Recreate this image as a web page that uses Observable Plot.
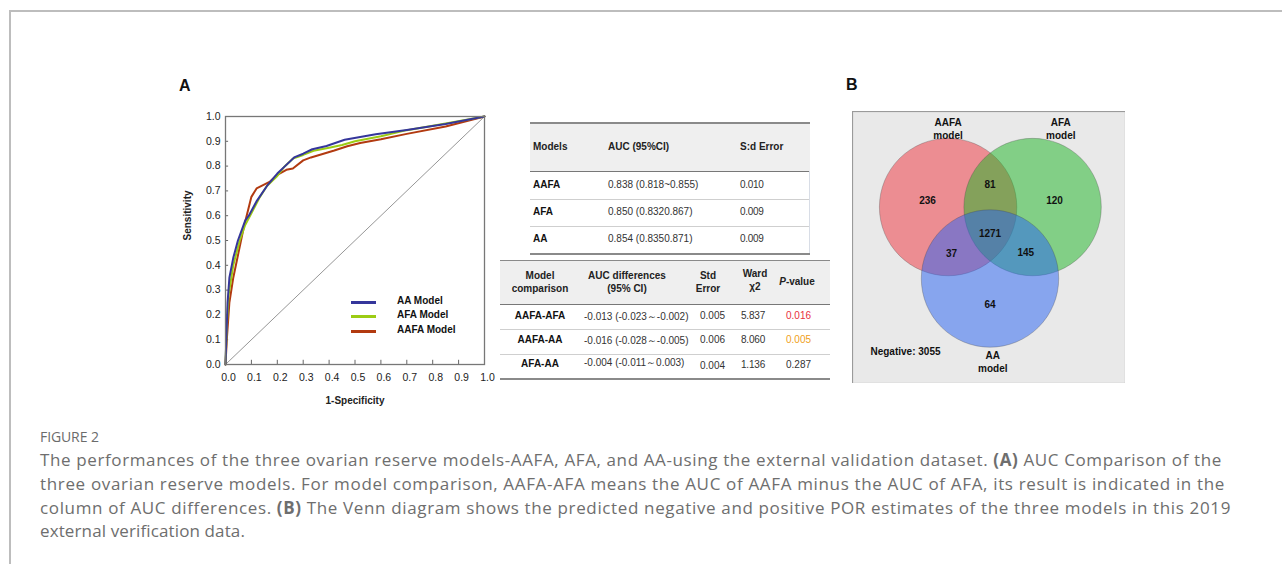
<!DOCTYPE html>
<html><head><meta charset="utf-8">
<script src="https://cdn.jsdelivr.net/npm/d3@7"></script>
<script src="https://cdn.jsdelivr.net/npm/@observablehq/plot@0.6"></script>
<style>
body{margin:0;background:#fff;}
#root{position:relative;width:1282px;height:564px;overflow:hidden;font-family:"Liberation Sans",Arial,sans-serif;color:#222;}
.abs{position:absolute;white-space:nowrap;}
.b{font-weight:bold;}
</style></head><body><div id="root"></div>
<script>
// ---------------- data ----------------
const axisTicks = [0, 0.1, 0.2, 0.3, 0.4, 0.5, 0.6, 0.7, 0.8, 0.9, 1.0];
const models = ["AA Model", "AFA Model", "AAFA Model"];
const modelColors = ["#35369b", "#9ccc14", "#b23a10"];

const aaFpr  = [0, 0.003, 0.008, 0.015, 0.03, 0.048, 0.076, 0.09, 0.121, 0.16, 0.2, 0.23, 0.265, 0.3, 0.335, 0.39, 0.46, 0.58, 0.7, 0.85, 1];
const aaTpr  = [0, 0.1, 0.25, 0.35, 0.43, 0.5, 0.58, 0.6, 0.66, 0.72, 0.77, 0.8, 0.835, 0.85, 0.868, 0.881, 0.906, 0.928, 0.946, 0.97, 1];
const afaFpr = [0, 0.005, 0.012, 0.03, 0.055, 0.075, 0.1, 0.13, 0.16, 0.2, 0.225, 0.26, 0.3, 0.34, 0.4, 0.45, 0.5, 0.6, 0.7, 0.85, 1];
const afaTpr = [0, 0.15, 0.28, 0.4, 0.5, 0.56, 0.61, 0.67, 0.72, 0.76, 0.795, 0.83, 0.845, 0.862, 0.874, 0.885, 0.9, 0.92, 0.945, 0.972, 1];
const aafaFpr = [0, 0.005, 0.015, 0.03, 0.05, 0.07, 0.1, 0.12, 0.17, 0.2, 0.235, 0.26, 0.3, 0.33, 0.42, 0.47, 0.52, 0.6, 0.7, 0.85, 1];
const aafaTpr = [0, 0.1, 0.25, 0.35, 0.45, 0.55, 0.676, 0.71, 0.736, 0.765, 0.785, 0.79, 0.823, 0.835, 0.863, 0.88, 0.893, 0.908, 0.93, 0.96, 1];

const aucHeader = ["Models", "AUC (95%CI)", "S:d Error"];
const aucModels = ["AAFA", "AFA", "AA"];
const aucValues = ["0.838 (0.818~0.855)", "0.850 (0.8320.867)", "0.854 (0.8350.871)"];
const aucStdErr = ["0.010", "0.009", "0.009"];

const cmpPairs = ["AAFA-AFA", "AAFA-AA", "AFA-AA"];
const cmpDiffs = ["-0.013 (-0.023～-0.002)", "-0.016 (-0.028～-0.005)", "-0.004 (-0.011～0.003)"];
const cmpStdErr = ["0.005", "0.006", "0.004"];
const cmpWard = ["5.837", "8.060", "1.136"];
const cmpP = ["0.016", "0.005", "0.287"];

const vennSets = ["AAFA", "AFA", "AA"];
const vennColors = ["#f0323c", "#1bb523", "#2561f3"];
const vennRegions = ["AAFA only", "AAFA∩AFA", "AFA only", "all three", "AAFA∩AA", "AFA∩AA", "AA only"];
const vennCounts = [236, 81, 120, 1271, 37, 145, 64];
const vennNegative = 3055;

const captionTitle = "FIGURE 2";
const captionLines = [
  ["The performances of the three ovarian reserve models-AAFA, AFA, and AA-using the external validation dataset. ", "(A)", " AUC Comparison of the"],
  ["three ovarian reserve models. For model comparison, AAFA-AFA means the AUC of AAFA minus the AUC of AFA, its result is indicated in the"],
  ["column of AUC differences. ", "(B)", " The Venn diagram shows the predicted negative and positive POR estimates of the three models in this 2019"],
  ["external verification data."]
];

// ---------------- layout helpers ----------------
const root = document.getElementById("root");
function put(html, left, top, css = "") {
  const d = document.createElement("div");
  d.className = "abs";
  d.style.cssText = `left:${left}px;top:${top}px;${css}`;
  d.innerHTML = html;
  root.appendChild(d);
  return d;
}
function hline(x, y, w, color, t = 1) { put("", x, y, `width:${w}px;height:${t}px;background:${color}`); }
function vline(x, y, h, color, t = 1) { put("", x, y, `width:${t}px;height:${h}px;background:${color}`); }

// outer frame
hline(9, 10, 1273, "#bdbdbd", 1.5);
vline(9, 10, 554, "#bdbdbd", 1.5);

// panel letters
put("A", 179, 77, "font:bold 16px 'Liberation Sans',Arial;color:#111");
put("B", 846, 76, "font:bold 16px 'Liberation Sans',Arial;color:#111");

// ---------------- ROC plot ----------------
const rocRows = [
  ...aaFpr.map((x, i) => ({model: models[0], x, y: aaTpr[i]})),
  ...afaFpr.map((x, i) => ({model: models[1], x, y: afaTpr[i]})),
  ...aafaFpr.map((x, i) => ({model: models[2], x, y: aafaTpr[i]}))
];
const drawOrder = [models[2], models[1], models[0]];
const roc = Plot.plot({
  width: 340, height: 320,
  marginLeft: 65, marginRight: 16, marginTop: 16, marginBottom: 56,
  style: {fontFamily: "'Liberation Sans', Arial, sans-serif", fontSize: "10.5px", color: "#222", background: "transparent"},
  x: {domain: [0, 1]},
  y: {domain: [0, 1]},
  color: {domain: models, range: modelColors},
  marks: [
    Plot.axisX(axisTicks, {tickFormat: d3.format(".1f"), tickSize: 0, tickPadding: 9, dx: 3, label: null}),
    Plot.axisY(axisTicks, {tickFormat: d3.format(".1f"), tickSize: 0, tickPadding: 5, label: null}),
    Plot.line([0, 1], {x: d => d, y: d => d, stroke: "#8a8a8a", strokeWidth: 0.9}),
    Plot.ruleX(axisTicks.slice(1, -1), {x: d => d, y1: 0, y2: 0.017, stroke: "#666"}),
    Plot.ruleY(axisTicks.slice(1, -1), {y: d => d, x1: 0, x2: 0.012, stroke: "#666"}),
    Plot.line(rocRows, {x: "x", y: "y", z: "model", stroke: "model", strokeWidth: 2, sort: (a, b) => drawOrder.indexOf(a.model) - drawOrder.indexOf(b.model) || a.x - b.x}),
    Plot.frame({stroke: "#777", strokeWidth: 1.3}),
    Plot.text(["1-Specificity"], {frameAnchor: "bottom", dy: 39, fontWeight: "bold", fontSize: 10}),
    Plot.text(["Sensitivity"], {frameAnchor: "left", dx: -38, rotate: -90, fontWeight: "bold", fontSize: 10})
  ]
});
roc.style.position = "absolute"; roc.style.left = "160px"; roc.style.top = "100px";
root.appendChild(roc);

// legend
models.forEach((m, i) => {
  const y = [302, 316, 331][i];
  put("", 351, y - 1, `width:25px;height:2.5px;background:${modelColors[i]}`);
  put(m, 397, y - 7, "font:bold 10px 'Liberation Sans',Arial;color:#111");
});

// ---------------- AUC table ----------------
hline(530, 122, 280, "#8a8a8a", 1.5);
put("", 530, 123.5, "width:280px;height:47px;background:#efefef");
hline(530, 170.5, 280, "#777", 1);
[199, 226].forEach(y => hline(530, y, 280, "#cfcfcf", 1));
hline(530, 253, 280, "#8a8a8a", 1.5);
vline(809, 171, 82, "#d8dde6", 1);
const aucCols = [533, 608, 740];
aucHeader.forEach((h, j) => put(h, aucCols[j], 141, "font:bold 10px 'Liberation Sans',Arial;color:#222"));
aucModels.forEach((m, i) => {
  const y = [179, 206, 233][i];
  put(m, aucCols[0], y, "font:bold 10px 'Liberation Sans',Arial;color:#111");
  put(aucValues[i], aucCols[1], y, "font:10px 'Liberation Sans',Arial;color:#333");
  put(aucStdErr[i], aucCols[2], y, "font:10px 'Liberation Sans',Arial;color:#333;letter-spacing:-0.3px");
});

// ---------------- comparison table ----------------
hline(500, 259.5, 330, "#8a8a8a", 1.5);
put("", 500, 261, "width:330px;height:43px;background:#efefef");
hline(500, 304, 330, "#777", 1);
[329, 354].forEach(y => hline(500, y, 330, "#cfcfcf", 1));
hline(500, 378, 330, "#8a8a8a", 1.5);
const hdrCss = "font:bold 10px/13px 'Liberation Sans',Arial;color:#222;text-align:center;transform:translateX(-50%)";
put("Model<br>comparison", 540, 269, hdrCss);
put("AUC differences<br>(95% CI)", 627, 269, hdrCss);
put("Std<br>Error", 708, 269, hdrCss);
put("Ward<br>χ2", 755, 267, hdrCss);
put("<i>P</i>-value", 797, 275, hdrCss);
cmpPairs.forEach((p, i) => {
  const y = [310, 334, 358][i];
  put(p, 540, y, "font:bold 10px 'Liberation Sans',Arial;color:#111;transform:translateX(-50%)");
  put(cmpDiffs[i], 584, y - (i === 2 ? 2 : 0), "font:10px 'Liberation Sans',Arial;color:#333");
  put(cmpStdErr[i], 700, y + (i === 2 ? 2 : 0), "font:10px 'Liberation Sans',Arial;color:#333");
  put(cmpWard[i], 741, y + (i === 2 ? 1 : 0), "font:10px 'Liberation Sans',Arial;color:#333;letter-spacing:-0.2px");
  const pc = i === 0 ? "#e8303c" : i === 1 ? "#f0a020" : "#333";
  put(cmpP[i], 786, y + (i === 2 ? 1 : 0), `font:10px 'Liberation Sans',Arial;color:${pc}`);
});

// ---------------- Venn diagram ----------------
// layout in circle-radius units (y up), AA circle centred at origin
const circleLayout = [{cx: -0.61, cy: 1.04}, {cx: 0.62, cy: 1.04}, {cx: 0, cy: 0}];
const regionLayout = [
  {x: -0.91, y: 1.135}, {x: 0, y: 1.37}, {x: 0.94, y: 1.135}, {x: 0, y: 0.655},
  {x: -0.56, y: 0.364}, {x: 0.52, y: 0.378}, {x: 0, y: -0.38}
];
const setLabelLayout = [{x: -0.61, y: 2.19}, {x: 1.03, y: 2.19}, {x: 0.04, y: -1.2}];
const circles = vennSets.map((s, i) => ({set: s, ...circleLayout[i]}));
const regions = vennRegions.map((r, i) => ({region: r, n: vennCounts[i], ...regionLayout[i]}));
const setLabels = vennSets.map((s, i) => ({label: `${s}\nmodel`, ...setLabelLayout[i]}));
const R = 68.7;
const venn = Plot.plot({
  width: 273, height: 272, margin: 0,
  style: {fontFamily: "'Liberation Sans', Arial, sans-serif", background: "transparent"},
  x: {domain: [-137.5 / R, 135.5 / R], axis: null},
  y: {domain: [-105 / R, 167 / R], axis: null},
  color: {domain: vennSets, range: vennColors},
  marks: [
    Plot.frame({fill: "#e9e9e9", stroke: "#9a9a9a", strokeWidth: 1.2}),
    Plot.dot(circles, {x: "cx", y: "cy", r: R, fill: "set", fillOpacity: 0.5, stroke: "#444", strokeWidth: 0.5, strokeOpacity: 0.6}),
    Plot.text(regions, {x: "x", y: "y", text: d => String(d.n), fontWeight: "bold", fontSize: 10, fill: "#111"}),
    Plot.text(setLabels, {x: "x", y: "y", text: "label", fontWeight: "bold", fontSize: 10, fill: "#111", lineHeight: 1.3}),
    Plot.text([`Negative: ${vennNegative}`], {x: () => -1.74, y: () => -1.06, textAnchor: "start", fontWeight: "bold", fontSize: 10, fill: "#111"})
  ]
});
venn.style.position = "absolute"; venn.style.left = "852px"; venn.style.top = "111px";
root.appendChild(venn);

// ---------------- caption ----------------
put(captionTitle, 40, 427, "font:14px 'Open Sans',sans-serif;color:#6b6b6b;letter-spacing:-0.1px");
const targets = [1182, 1185, 1191, 205];
captionLines.forEach((parts, i) => {
  const html = parts.map(p => (p === "(A)" || p === "(B)") ? `<b>${p}</b>` : p).join("");
  const d = put(html, 40, 448 + i * 23.8, "font:17px/24px 'Open Sans',sans-serif;color:#6e6e6e");
  const w = d.getBoundingClientRect().width;
  const chars = parts.join("").length;
  d.style.letterSpacing = ((targets[i] - w) / chars) + "px";
});
</script></body></html>
